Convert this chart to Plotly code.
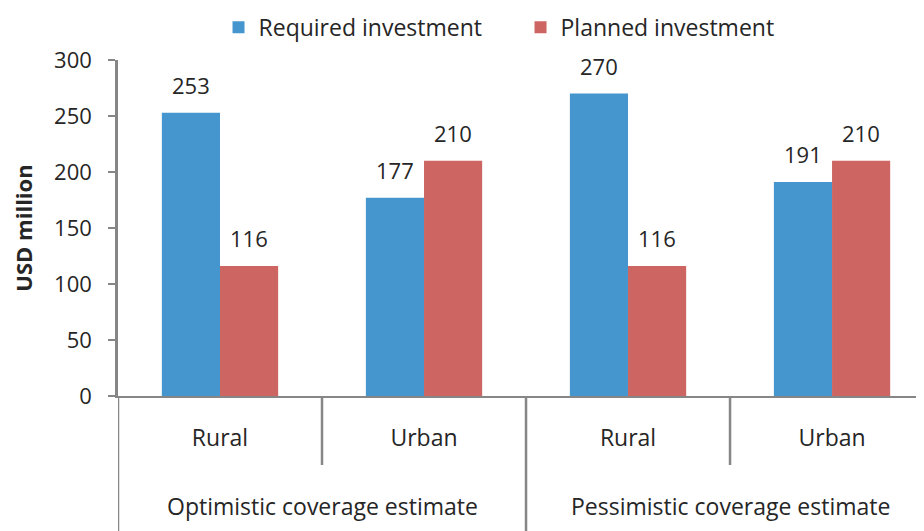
import plotly.graph_objects as go

groups = ["Optimistic coverage estimate", "Optimistic coverage estimate",
          "Pessimistic coverage estimate", "Pessimistic coverage estimate"]
areas = ["Rural", "Urban", "Rural", "Urban"]
required = [253, 177, 270, 191]
planned = [116, 210, 116, 210]
series_names = ["Required investment", "Planned investment"]
colors = ["#4596CE", "#CD6662"]
y_ticks = [0, 50, 100, 150, 200, 250, 300]

keys = [f"{g}|{a}" for g, a in zip(groups, areas)]
FONT = "Open Sans"
TXT = "#262626"
AX = "#868686"
PLOT_H = 336.0

fig = go.Figure()
for name, vals, col in zip(series_names, [required, planned], colors):
    fig.add_trace(go.Bar(x=keys, y=vals, name=name, marker=dict(color=col, line=dict(width=0))))

ann = []
for vals, shift in [(required, -29), (planned, 29)]:
    for k, v in zip(keys, vals):
        ann.append(dict(x=k, y=v, xref="x", yref="y", text=str(v), showarrow=False,
                        xshift=shift, yshift=28, font=dict(size=22, color=TXT, family=FONT)))

# group labels
uniq_groups = list(dict.fromkeys(groups))
for g in uniq_groups:
    idx = [i for i, gg in enumerate(groups) if gg == g]
    ann.append(dict(x=sum(idx) / len(idx), y=-110 / PLOT_H, xref="x", yref="paper",
                    yanchor="middle", text=g, showarrow=False,
                    font=dict(size=23, color=TXT, family=FONT)))

shapes = []
for i in range(len(keys) - 1):
    long_div = groups[i] != groups[i + 1]
    shapes.append(dict(type="line", xref="x", yref="paper", x0=i + 0.5, x1=i + 0.5,
                       y0=0, y1=-(140 if long_div else 69) / PLOT_H,
                       line=dict(color=AX, width=2.5)))
shapes.append(dict(type="line", xref="x", yref="paper", x0=-0.5, x1=-0.5, y0=0,
                   y1=-140 / PLOT_H, line=dict(color=AX, width=2.5)))

fig.update_layout(
    width=924, height=531,
    margin=dict(l=110, r=0, t=52, b=143, autoexpand=False),
    plot_bgcolor="white", paper_bgcolor="white",
    barmode="group", bargap=0.43, bargroupgap=0,
    font=dict(family=FONT, size=22, color=TXT),
    showlegend=True,
    legend=dict(orientation="h", x=0.1235, xanchor="left", y=1.097, yanchor="middle",
                font=dict(size=23, color=TXT, family=FONT), itemwidth=30,
                entrywidth=257, bgcolor="rgba(0,0,0,0)"),
    annotations=ann,
    shapes=shapes,
)
fig.update_xaxes(type="category", range=[-0.5, 3.49], tickvals=keys, ticktext=areas,
                 showline=True, linecolor=AX, linewidth=2, ticks="", showgrid=False,
                 ticklabelstandoff=20, tickfont=dict(size=23, color=TXT, family=FONT),
                 zeroline=False)
fig.update_yaxes(range=[0, 300], tickvals=y_ticks, showline=True, linecolor=AX, linewidth=2.5,
                 ticks="outside", ticklen=7, tickcolor=AX, tickwidth=2, showgrid=False,
                 zeroline=False, ticklabelstandoff=12,
                 tickfont=dict(size=22, color=TXT, family=FONT),
                 title=dict(text="<b>USD million</b>", font=dict(size=22, color=TXT, family=FONT),
                            standoff=24))

fig.write_html("out.html")
